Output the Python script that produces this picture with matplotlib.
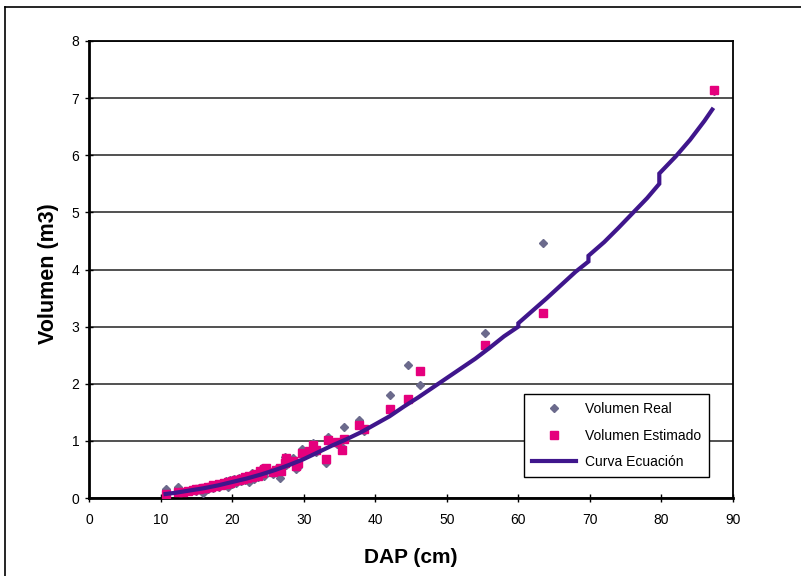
import matplotlib
matplotlib.use("Agg")
import matplotlib.pyplot as plt
from matplotlib.lines import Line2D

plt.rcParams['font.family'] = ['Liberation Sans', 'DejaVu Sans']

# Observed trees: diameter (cm), real volume, estimated volume (m3)
dap = [10.7, 12.4, 13.2, 13.8, 14.5, 15.0, 15.4, 15.9, 16.2, 16.6, 17.0, 17.3,
       17.7, 18.1, 18.4, 18.8, 19.1, 19.4, 19.7, 20.0, 20.3, 20.6, 20.9, 21.2,
       21.5, 21.8, 22.1, 22.4, 22.8, 23.0, 23.3, 23.6, 23.9, 24.2, 24.5, 24.8,
       25.7, 26.1, 26.7, 26.9, 27.4, 27.6, 28.5, 28.9, 29.2, 29.7, 30.7, 31.3,
       31.7, 33.1, 33.4, 34.6, 35.3, 35.6, 37.8, 38.4, 42.0, 44.6, 46.2, 55.4,
       63.5, 87.3]
vol_real = [0.16, 0.20, 0.11, 0.13, 0.15, 0.12, 0.17, 0.09, 0.19, 0.15, 0.21, 0.18,
            0.24, 0.20, 0.27, 0.22, 0.29, 0.19, 0.31, 0.25, 0.33, 0.27, 0.35, 0.29,
            0.37, 0.31, 0.39, 0.28, 0.43, 0.33, 0.41, 0.36, 0.45, 0.52, 0.38, 0.47,
            0.42, 0.50, 0.35, 0.46, 0.72, 0.58, 0.70, 0.50, 0.55, 0.86, 0.78, 0.96,
            0.80, 0.61, 1.07, 0.95, 0.89, 1.25, 1.37, 1.18, 1.80, 2.33, 1.98, 2.89,
            4.47, 7.12]
vol_est = [0.07, 0.10, 0.11, 0.12, 0.14, 0.15, 0.16, 0.17, 0.18, 0.19, 0.20, 0.22,
           0.21, 0.24, 0.23, 0.26, 0.25, 0.28, 0.27, 0.30, 0.29, 0.32, 0.31, 0.34,
           0.33, 0.36, 0.35, 0.38, 0.37, 0.40, 0.42, 0.39, 0.47, 0.44, 0.50, 0.53,
           0.45, 0.49, 0.52, 0.48, 0.62, 0.70, 0.65, 0.56, 0.61, 0.79, 0.82, 0.92,
           0.84, 0.68, 1.01, 0.98, 0.84, 1.03, 1.28, 1.21, 1.56, 1.73, 2.22, 2.68,
           3.24, 7.14]

# Equation curve
curve_dap = [10.7, 12, 14, 16, 18, 20, 22, 24, 26, 28, 30, 32, 34, 36, 38, 40, 42,
             44, 46, 48, 50, 52, 54, 56, 58, 60, 60, 62, 64, 66, 68, 69.8, 69.8,
             72, 74, 76, 78, 79.7, 79.7, 82, 84, 86, 87.1]
curve_vol = [0.07, 0.09, 0.13, 0.17, 0.22, 0.28, 0.34, 0.41, 0.49, 0.58, 0.68, 0.80,
             0.92, 1.03, 1.15, 1.29, 1.43, 1.60, 1.76, 1.93, 2.10, 2.27, 2.44, 2.63,
             2.83, 3.00, 3.06, 3.28, 3.50, 3.73, 3.96, 4.14, 4.24, 4.48, 4.73, 4.99,
             5.25, 5.50, 5.68, 5.98, 6.27, 6.60, 6.80]

x_ticks = [0, 10, 20, 30, 40, 50, 60, 70, 80, 90]
y_ticks = [0, 1, 2, 3, 4, 5, 6, 7, 8]

c_real = '#6B6A8C'
c_est = '#E5007D'
c_curve = '#3F168C'

fig = plt.figure(figsize=(8.01, 5.76), dpi=100)
ax = fig.add_axes([89/801, 1-498/576, (733-89)/801, (498-41)/576])

# outer frame of the chart area (top & left visible)
fig.add_artist(Line2D([5/801, 5/801], [0, 1-7/576], color='black', lw=1.2,
                      transform=fig.transFigure))
fig.add_artist(Line2D([5/801, 1], [1-7/576, 1-7/576], color='black', lw=1.2,
                      transform=fig.transFigure))

ax.set_xlim(0, 90)
ax.set_ylim(0, 8)
ax.set_xticks(x_ticks)
ax.set_yticks(y_ticks)
ax.yaxis.grid(True, color='#222222', lw=1.1)
ax.set_axisbelow(True)

ax.plot(dap, vol_real, linestyle='none', marker='D', markersize=4.2,
        color=c_real, label='Volumen Real', zorder=3)
ax.plot(dap, vol_est, linestyle='none', marker='s', markersize=5.5,
        color=c_est, label='Volumen Estimado', zorder=4)
ax.plot(curve_dap, curve_vol, color=c_curve, lw=3, label='Curva Ecuación',
        zorder=5, solid_joinstyle='miter')

for s in ax.spines.values():
    s.set_linewidth(1.3)
    s.set_color('black')
ax.spines['left'].set_linewidth(2)
ax.spines['bottom'].set_linewidth(2)

ax.tick_params(axis='both', direction='inout', length=6, width=1, labelsize=10,
               colors='black')
ax.tick_params(axis='x', pad=8)
ax.tick_params(axis='y', pad=4)

ax.set_xlabel('DAP (cm)', fontsize=15, fontweight='bold', labelpad=15)
ax.set_ylabel('Volumen (m3)', fontsize=15.5, fontweight='bold')
ax.yaxis.set_label_coords(-0.046, 0.49)

leg = ax.legend(loc='lower left', bbox_to_anchor=(0.675, 0.045), fontsize=10,
                frameon=True, fancybox=False, edgecolor='black', framealpha=1,
                handlelength=3.2, borderpad=0.6, labelspacing=0.9,
                handletextpad=0.6, borderaxespad=0)
leg.get_frame().set_linewidth(1)

fig.savefig('out.png', dpi=100)
